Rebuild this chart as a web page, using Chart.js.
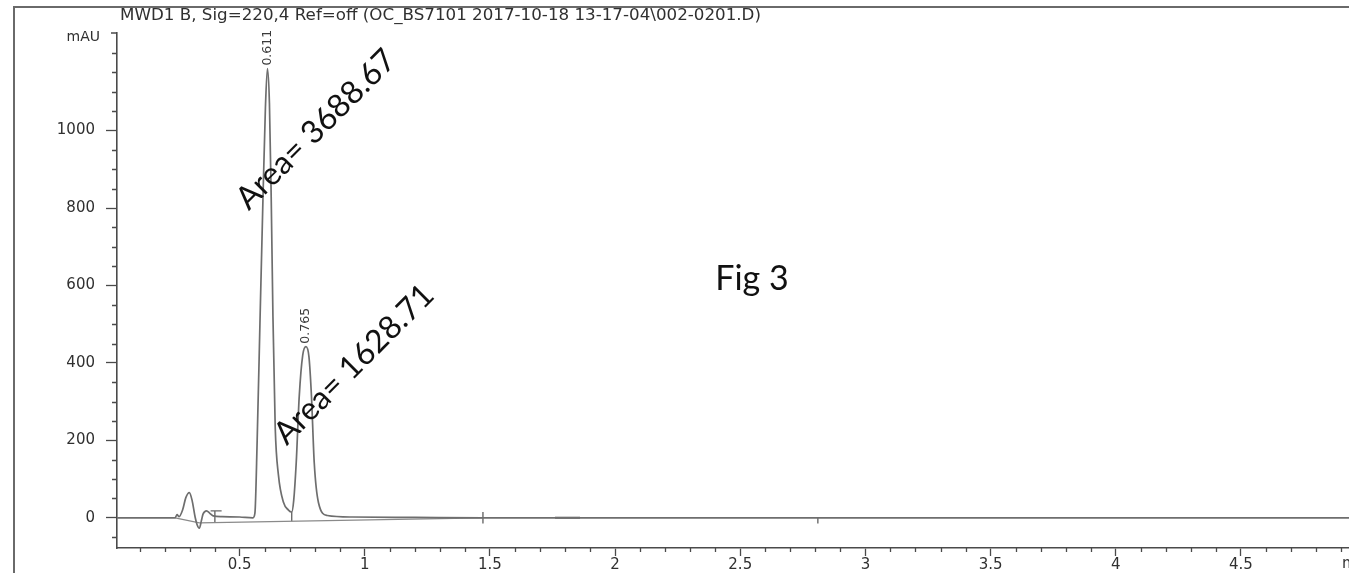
<!DOCTYPE html>
<html>
<head>
<meta charset="utf-8">
<script src="https://cdn.jsdelivr.net/npm/chart.js@4.4.1/dist/chart.umd.min.js"></script>
<style>
  html, body { margin: 0; padding: 0; background: #ffffff; }
  #wrap { position: relative; width: 1349px; height: 573px; }
</style>
</head>
<body>
<div id="wrap"><canvas id="c" width="1349" height="573"></canvas></div>
<script>
// Detector signal: retention time (min) and absorbance (mAU)
const traceTimes = [
  0.01, 0.20, 0.242, 0.250, 0.258, 0.272, 0.285, 0.299, 0.310, 0.322, 0.330, 0.339,
  0.347, 0.354, 0.368, 0.380, 0.394, 0.430, 0.500, 0.553, 0.561, 0.570, 0.581, 0.593,
  0.603, 0.611, 0.619, 0.626, 0.633, 0.642, 0.655, 0.675, 0.695, 0.708, 0.716, 0.726,
  0.738, 0.752, 0.765, 0.777, 0.787, 0.798, 0.815, 0.850, 0.950, 1.200, 1.472, 4.932
];
const traceValues = [
  0, 0, 0, 8, 3, 20, 52, 65, 45, 2, -18, -27,
  -8, 10, 18, 12, 5, 3, 2, 0, 12, 200, 500, 820,
  1060, 1160, 1070, 830, 520, 235, 110, 40, 20, 15, 45, 142,
  313, 420, 442, 415, 313, 142, 39, 6, 2, 1, 0, 0
];

// Integration baseline drawn under the peaks
const baseTimes = [0.242, 0.339, 1.472];
const baseValues = [0, -13, 0];

// Integration event marks (vertical bars)
const markTimes = [0.401, 0.708, 1.472, 2.81];
const markLows = [-13, -9, -15, -15];
const markHighs = [18, 15, 15, 0];

// Cross bar on top of the first event mark
const capTimes = [0.384, 0.428];
const capValues = [18, 18];

// Short horizontal event dash on the baseline
const dashTimes = [1.76, 1.86];
const dashValues = [0, 0];

// Integrated peaks
const peakTimes = [0.611, 0.765];
const peakHeights = [1160, 442];
const peakAreas = [3688.67, 1628.71];

// Axis ticks
const xTickLabels = [0.5, 1, 1.5, 2, 2.5, 3, 3.5, 4, 4.5];
const yTickLabels = [0, 200, 400, 600, 800, 1000];
const xMinorStep = 0.1;
const yMinorStep = 50;

const X_MIN = 0.01, X_MAX = 4.932;
const Y_MIN = -78, Y_MAX = 1252;

const titleText = 'MWD1 B, Sig=220,4 Ref=off (OC_BS7101 2017-10-18 13-17-04\\002-0201.D)';
const figLabel = 'Fig 3';

const AXIS_COLOR = '#4a4a4a';
const TEXT_COLOR = '#303030';
const TRACE_COLOR = '#6e6e6e';
const AXIS_FONT = '"DejaVu Sans", sans-serif';
const NOTE_FONT = 'Lato, "Open Sans", sans-serif';

const round = v => Math.round(v * 1000) / 1000;
const xTickValues = [];
for (let v = 0.1; v < X_MAX; v += xMinorStep) xTickValues.push(round(v));
const yTickValues = [];
for (let v = -50; v <= 1200; v += yMinorStep) yTickValues.push(v);

const isMajorX = v => xTickLabels.some(t => Math.abs(t - v) < 1e-6);
const isMajorY = v => yTickLabels.includes(v);

const tracePoints = traceTimes.map((t, i) => ({ x: t, y: traceValues[i] }));
const basePoints = baseTimes.map((t, i) => ({ x: t, y: baseValues[i] }));
const markPoints = [];
markTimes.forEach((t, i) => {
  markPoints.push({ x: t, y: markLows[i] }, { x: t, y: markHighs[i] }, { x: t, y: null });
});
capTimes.forEach((t, i) => markPoints.push({ x: t, y: capValues[i] }));
const dashPoints = dashTimes.map((t, i) => ({ x: t, y: dashValues[i] }));

// Frame, title, minor ticks, peak labels and notes
const decorations = {
  id: 'decorations',
  beforeDraw(chart) {
    const ctx = chart.ctx;
    ctx.save();
    ctx.fillStyle = '#ffffff';
    ctx.fillRect(0, 0, chart.width, chart.height);
    ctx.restore();
  },
  afterDraw(chart) {
    const ctx = chart.ctx;
    const xs = chart.scales.x, ys = chart.scales.y;
    const area = chart.chartArea;
    ctx.save();

    // outer frame
    ctx.strokeStyle = '#6a6a6a';
    ctx.lineWidth = 2;
    ctx.beginPath();
    ctx.moveTo(14, chart.height);
    ctx.lineTo(14, 7);
    ctx.lineTo(chart.width, 7);
    ctx.stroke();

    // title
    ctx.fillStyle = TEXT_COLOR;
    ctx.font = '15px ' + AXIS_FONT;
    ctx.textAlign = 'left';
    ctx.textBaseline = 'alphabetic';
    const tw = ctx.measureText(titleText).width;
    ctx.save();
    ctx.translate(120, 20);
    ctx.scale(641 / tw, 1);
    ctx.fillText(titleText, 0, 0);
    ctx.restore();

    // unit labels
    ctx.font = '14px ' + AXIS_FONT;
    ctx.textAlign = 'right';
    ctx.textBaseline = 'middle';
    ctx.fillText('mAU', 100, area.top + 4);
    ctx.textAlign = 'left';
    ctx.textBaseline = 'top';
    ctx.font = '15px ' + AXIS_FONT;
    ctx.fillText('min', xs.getPixelForValue(X_MAX) - 7, area.bottom + 9);

    // top bracket of the y axis
    ctx.strokeStyle = AXIS_COLOR;
    ctx.lineWidth = 1.5;
    ctx.beginPath();
    ctx.moveTo(area.left - 6, area.top);
    ctx.lineTo(area.left, area.top);
    ctx.stroke();

    // minor ticks
    ctx.lineWidth = 1.3;
    ctx.beginPath();
    xTickValues.forEach(v => {
      if (isMajorX(v)) return;
      const px = Math.round(xs.getPixelForValue(v)) + 0.5;
      ctx.moveTo(px, area.bottom);
      ctx.lineTo(px, area.bottom + 4);
    });
    yTickValues.forEach(v => {
      if (isMajorY(v)) return;
      const py = Math.round(ys.getPixelForValue(v)) + 0.5;
      ctx.moveTo(area.left, py);
      ctx.lineTo(area.left - 5, py);
    });
    ctx.stroke();

    // retention time labels above each peak
    ctx.fillStyle = '#3a3a3a';
    ctx.font = '12.5px ' + AXIS_FONT;
    ctx.textAlign = 'left';
    ctx.textBaseline = 'middle';
    peakTimes.forEach((t, i) => {
      const px = xs.getPixelForValue(t);
      const py = ys.getPixelForValue(peakHeights[i]) - 3;
      ctx.save();
      ctx.translate(px, py);
      ctx.rotate(-Math.PI / 2);
      ctx.fillText(t.toFixed(3), 0, 0);
      ctx.restore();
    });

    // area notes
    const noteAnchors = [{ x: 0.805, y: 1003 }, { x: 0.957, y: 396 }];
    ctx.fillStyle = '#111111';
    ctx.font = '32px ' + NOTE_FONT;
    ctx.textAlign = 'center';
    ctx.textBaseline = 'middle';
    peakAreas.forEach((a, i) => {
      const px = xs.getPixelForValue(noteAnchors[i].x);
      const py = ys.getPixelForValue(noteAnchors[i].y);
      ctx.save();
      ctx.translate(px, py);
      ctx.rotate(-45 * Math.PI / 180);
      ctx.fillText('Area= ' + a.toFixed(2), 0, 0);
      ctx.restore();
    });

    // figure label
    ctx.font = '34px ' + NOTE_FONT;
    ctx.textAlign = 'left';
    ctx.textBaseline = 'alphabetic';
    ctx.fillText(figLabel, xs.getPixelForValue(2.40), ys.getPixelForValue(588));

    ctx.restore();
  }
};

new Chart(document.getElementById('c'), {
  type: 'line',
  data: {
    datasets: [
      {
        data: tracePoints,
        borderColor: TRACE_COLOR,
        borderWidth: 1.7,
        pointRadius: 0,
        fill: false,
        cubicInterpolationMode: 'monotone'
      },
      {
        data: basePoints,
        borderColor: '#8a8a8a',
        borderWidth: 1.2,
        pointRadius: 0,
        fill: false,
        tension: 0
      },
      {
        data: markPoints,
        borderColor: '#6a6a6a',
        borderWidth: 1.4,
        pointRadius: 0,
        fill: false,
        spanGaps: false,
        tension: 0
      },
      {
        data: dashPoints,
        borderColor: '#8a8a8a',
        borderWidth: 2.4,
        pointRadius: 0,
        fill: false,
        tension: 0
      }
    ]
  },
  options: {
    responsive: false,
    animation: false,
    devicePixelRatio: 1,
    layout: { padding: { top: 33, left: 0, right: 0, bottom: 0 } },
    plugins: {
      legend: { display: false },
      tooltip: { enabled: false },
      title: { display: false }
    },
    scales: {
      x: {
        type: 'linear',
        position: 'bottom',
        min: X_MIN,
        max: X_MAX,
        afterBuildTicks: scale => { scale.ticks = xTickValues.map(v => ({ value: v })); },
        afterFit: scale => { scale.height = 25; },
        border: { display: true, color: AXIS_COLOR, width: 1.6 },
        grid: {
          display: true,
          drawOnChartArea: false,
          drawTicks: true,
          tickLength: 8,
          tickWidth: 1.3,
          tickColor: c => (c.tick && isMajorX(c.tick.value)) ? AXIS_COLOR : 'rgba(0,0,0,0)'
        },
        ticks: {
          autoSkip: false,
          maxRotation: 0,
          padding: 0,
          color: TEXT_COLOR,
          font: { family: AXIS_FONT, size: 15 },
          callback: v => isMajorX(v) ? String(v) : ''
        }
      },
      y: {
        type: 'linear',
        min: Y_MIN,
        max: Y_MAX,
        afterBuildTicks: scale => { scale.ticks = yTickValues.map(v => ({ value: v })); },
        afterFit: scale => { scale.width = 117; },
        border: { display: true, color: AXIS_COLOR, width: 1.6 },
        grid: {
          display: true,
          drawOnChartArea: false,
          drawTicks: true,
          tickLength: 11,
          tickWidth: 1.3,
          tickColor: c => (c.tick && isMajorY(c.tick.value)) ? AXIS_COLOR : 'rgba(0,0,0,0)'
        },
        ticks: {
          autoSkip: false,
          padding: 11,
          color: TEXT_COLOR,
          font: { family: AXIS_FONT, size: 15 },
          callback: v => isMajorY(v) ? String(v) : ''
        }
      }
    }
  },
  plugins: [decorations]
});
</script>
</body>
</html>
